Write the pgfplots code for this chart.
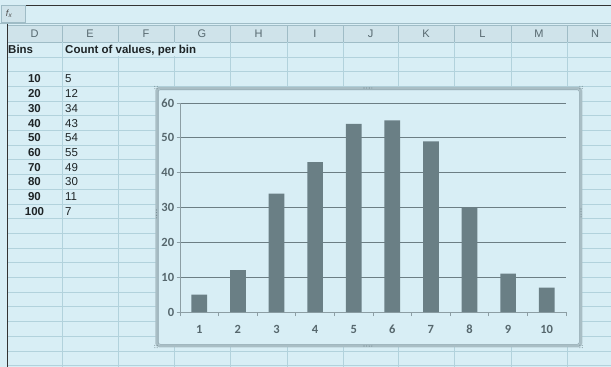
\documentclass[border=0pt]{standalone}
\usepackage{pgfplots}
\pgfplotsset{compat=1.18}
\usepackage{fontspec}
\setmainfont{Liberation Sans}
\newfontfamily\calibri[Numbers=Lining]{Carlito}
\definecolor{bgblue}{HTML}{D8EEF5}
\definecolor{sheetgrid}{HTML}{B2D2DC}
\definecolor{hdrfill}{HTML}{CFE3EA}
\definecolor{hdrline}{HTML}{9FBCC6}
\definecolor{hdrtext}{HTML}{56686F}
\definecolor{celltext}{HTML}{1E2426}
\definecolor{framecol}{HTML}{A9BEC5}
\definecolor{framein}{HTML}{889EA6}
\definecolor{handle}{HTML}{6F858C}
\definecolor{gridcol}{HTML}{6C7E84}
\definecolor{axiscol}{HTML}{8C9EA4}
\definecolor{barcol}{HTML}{6A7F85}
\definecolor{tickcol}{HTML}{56676D}
\begin{document}
\begin{tikzpicture}
\useasboundingbox (0,0) rectangle (611pt,-367pt);
\begin{scope}[x=1pt,y=-1pt]
\clip (0,0) rectangle (611,367);
\fill[bgblue] (0,0) rectangle (611,367);
% formula bar
\draw[black!80, line width=1pt] (25,5.5) -- (611,5.5);
\draw[hdrline, fill=hdrfill] (1,5) rectangle (25,22);
\node[text=black!70, inner sep=0pt] at (9,14) {\fontsize{9}{9}\selectfont\textit{f}\kern-0.5pt\raisebox{-1.2pt}{\fontsize{6.5}{6.5}\selectfont\textit{x}}};
\draw[hdrline] (0,23.5) -- (611,23.5);
% column header row
\fill[hdrfill] (7,25) rectangle (611,42);
\draw[hdrline] (7,25) -- (611,25);
\draw[hdrline] (7,42) -- (611,42);
\foreach \x in {62,118,174,230,287,343,398,454,511,567}
  \draw[hdrline] (\x,25) -- (\x,42);
\foreach \c/\l in {34.5/D,90/E,146/F,202/G,258.5/H,315/I,370.5/J,426/K,482.5/L,539/M,595/N}
  \node[text=hdrtext, anchor=base] at (\c,37.5) {\fontsize{11}{12}\selectfont \l};
% sheet grid
\foreach \k in {1,...,22}
  \draw[sheetgrid] (7,{42+14.7*\k}) -- (611,{42+14.7*\k});
\foreach \x in {62,118,174,230,287,343,398,454,511,567}
  \draw[sheetgrid] (\x,42) -- (\x,367);
\fill[bgblue] (62.6,42.6) rectangle (229.4,56.1);
\draw[black!80, line width=1pt] (7,23.5) -- (7,367);
% cells
\node[text=celltext, anchor=base west, inner sep=0pt] at (8,53.5) {\fontsize{11.5}{12}\selectfont\bfseries Bins};
\node[text=celltext, anchor=base west, inner sep=0pt] at (65,53.5) {\fontsize{11.5}{12}\selectfont\bfseries Count of values, per bin};
\foreach \k/\b/\v in {2/10/5,3/20/12,4/30/34,5/40/43,6/50/54,7/60/55,8/70/49,9/80/30,10/90/11,11/100/7}{
  \node[text=celltext, anchor=base, inner sep=0pt] at (34.5,{42+14.7*\k+11.5}) {\fontsize{11.5}{12}\selectfont\bfseries \b};
  \node[text=celltext, anchor=base west, inner sep=0pt] at (65,{42+14.7*\k+11.5}) {\fontsize{11.5}{12}\selectfont \v};
}
% chart frame
\fill[bgblue, rounded corners=3pt] (156,88) rectangle (581,346);
\draw[framecol, line width=2.5pt, rounded corners=3pt] (156.5,88) rectangle (581,346);
\draw[framein, line width=0.6pt, rounded corners=2pt] (158.2,89.7) rectangle (579.3,344.3);
\foreach \i in {0,...,3}{
  \fill[handle] ({364+2.6*\i},88) circle (0.55);
  \fill[handle] ({364+2.6*\i},346) circle (0.55);
  \fill[handle] (156.5,{210+2.6*\i}) circle (0.55);
  \fill[handle] (581,{209+2.6*\i}) circle (0.55);
}
\foreach \px/\py in {156/87.5,581/87.5,156/346.5,581/346.5}{
  \fill[handle] (\px-1.2,\py-1.2) circle (0.5);
  \fill[handle] (\px+1.2,\py-1.2) circle (0.5);
  \fill[handle] (\px-1.2,\py+1.2) circle (0.5);
  \fill[handle] (\px+1.2,\py+1.2) circle (0.5);
}
\end{scope}
\begin{axis}[
  scale only axis, width=386pt, height=209pt,
  at={(180pt,-312pt)}, anchor=south west,
  xmin=0.5, xmax=10.5, ymin=0, ymax=60,
  ybar, bar width=15.7pt,
  axis lines=left, axis line style={-, draw=axiscol, line width=0.8pt},
  ytick={0,10,...,60}, xtick={1,...,10},
  minor xtick={0.5,1.5,...,10.5},
  tick align=outside, major tick length=3.5pt, minor tick length=4pt,
  tick style={draw=axiscol, line width=0.8pt},
  major x tick style={opacity=0},
  ymajorgrids, major grid style={draw=gridcol, line width=0.8pt},
  /pgf/number format/assume math mode=true,
  tick label style={font=\calibri\bfseries\fontsize{12.5}{13}\selectfont, text=tickcol},
  yticklabel style={inner sep=2.2pt},
  xticklabel style={yshift=-6.5pt, text height=8pt, text depth=0pt},
  clip=false,
]
\addplot[fill=barcol, draw=none] coordinates {(1,5) (2,12) (3,34) (4,43) (5,54) (6,55) (7,49) (8,30) (9,11) (10,7)};
\end{axis}
\end{tikzpicture}
\end{document}
